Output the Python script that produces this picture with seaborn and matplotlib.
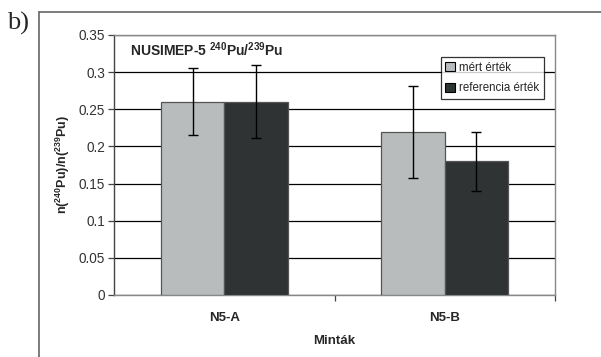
import matplotlib
matplotlib.use("Agg")
import matplotlib.pyplot as plt
from matplotlib.lines import Line2D
from matplotlib.patches import Patch
import seaborn as sns
import pandas as pd

categories = ["N5-A", "N5-B"]
series_names = ["mért érték", "referencia érték"]
mert_values = [0.26, 0.22]
mert_errors = [0.045, 0.062]
ref_values = [0.26, 0.18]
ref_errors = [0.049, 0.040]
y_ticks = [0, 0.05, 0.1, 0.15, 0.2, 0.25, 0.3, 0.35]
y_tick_labels = ["0", "0.05", "0.1", "0.15", "0.2", "0.25", "0.3", "0.35"]

df = pd.DataFrame({
    "Minta": categories * 2,
    "Sorozat": [series_names[0]] * 2 + [series_names[1]] * 2,
    "Ertek": mert_values + ref_values,
    "Hiba": mert_errors + ref_errors,
})

sns.set_style("white")
plt.rcParams["font.family"] = ["Liberation Sans", "DejaVu Sans"]
plt.rcParams["mathtext.fontset"] = "custom"
plt.rcParams["mathtext.rm"] = "Liberation Sans"
plt.rcParams["mathtext.bf"] = "Liberation Sans:bold"

colors = ["#B8BCBE", "#2E3434"]

fig = plt.figure(figsize=(6.01, 3.57), dpi=100)
ax = fig.add_axes([114 / 601, 1 - 295 / 357, 441 / 601, 260 / 357])

sns.barplot(data=df, x="Minta", y="Ertek", hue="Sorozat", hue_order=series_names,
            palette=colors, width=0.575, errorbar=None, legend=False,
            edgecolor="#555555", linewidth=0.9, ax=ax, zorder=3)

# error bars from the bar geometry
errs = mert_errors + ref_errors
for p, e in zip(ax.patches, errs):
    xc = p.get_x() + p.get_width() / 2
    ax.errorbar(xc, p.get_height(), yerr=e, fmt="none", ecolor="black",
                elinewidth=1.0, capsize=3.5, capthick=1.0, zorder=4)

ax.set_ylim(0, 0.35)
ax.set_xlim(-0.5, 1.5)
ax.set_yticks(y_ticks)
ax.set_yticklabels(y_tick_labels, fontsize=9.8, color="#333333")
ax.yaxis.grid(True, color="black", linewidth=0.9, zorder=0)
ax.set_axisbelow(True)
ax.tick_params(axis="y", length=4, width=0.9, color="#444444", left=True, pad=2.5)
ax.set_xticks([0, 1])
ax.set_xticklabels(categories, fontsize=9.5, fontweight="bold")
ax.set_xticks([0.5, 1.5], minor=True)
ax.tick_params(axis="x", which="major", length=0, pad=12)
ax.tick_params(axis="x", which="minor", length=4, width=0.9, color="#444444", bottom=True)

for s in ["left"]:
    ax.spines[s].set_color("#444444")
    ax.spines[s].set_linewidth(1.0)
for s in ["right", "top", "bottom"]:
    ax.spines[s].set_color("#888888")
    ax.spines[s].set_linewidth(1.0)

ax.set_xlabel("Minták", fontsize=9.5, fontweight="bold", labelpad=8)
ax.set_ylabel(r"n($^{\mathbf{240}}$Pu)/n($^{\mathbf{239}}$Pu)", fontsize=9,
              fontweight="bold", labelpad=5)

ax.text(0.036, 0.945, r"NUSIMEP-5 $^{\mathbf{240}}$Pu/$^{\mathbf{239}}$Pu",
        transform=ax.transAxes, fontsize=10, fontweight="bold", va="center", ha="left")

handles = [Patch(facecolor=c, edgecolor="black", linewidth=0.8) for c in colors]
leg = ax.legend(handles, series_names, loc="upper left", bbox_to_anchor=(0.741, 0.915),
                borderaxespad=0, fontsize=8.3, frameon=True, fancybox=False,
                handlelength=0.8, handleheight=0.8, handletextpad=0.4,
                borderpad=0.4, labelspacing=0.75, edgecolor="black")
leg.get_frame().set_linewidth(0.9)
leg.set_zorder(5)

# outer frame and panel label
fig.add_artist(Line2D([39 / 601, 39 / 601], [0, 1 - 12 / 357], color="#666666", linewidth=1.2))
fig.add_artist(Line2D([39 / 601, 1], [1 - 12 / 357, 1 - 12 / 357], color="#666666", linewidth=1.2))
fig.text(7 / 601, 1 - 23 / 357, "b)", fontsize=19, family=["Liberation Serif", "DejaVu Serif"],
         va="center", ha="left")

fig.savefig("out.png", dpi=100)
